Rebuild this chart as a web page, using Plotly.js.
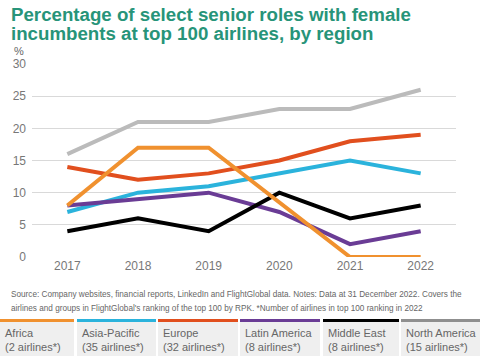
<!DOCTYPE html>
<html>
<head>
<meta charset="utf-8">
<script src="https://cdn.plot.ly/plotly-3.0.1.min.js"></script>
<style>html,body{margin:0;padding:0;background:#fff;}#chart{width:480px;height:356px;}</style>
</head>
<body>
<div id="chart"></div>
<script>
const years = [2017, 2018, 2019, 2020, 2021, 2022];
const africa = [8, 17, 17, 8.5, 0, 0];
const asiaPacific = [7, 10, 11, 13, 15, 13];
const europe = [14, 12, 13, 15, 18, 19];
const latinAmerica = [8, 9, 10, 7, 2, 4];
const middleEast = [4, 6, 4, 10, 6, 8];
const northAmerica = [16, 21, 21, 23, 23, 26];

const regionNames = ["Africa", "Asia-Pacific", "Europe", "Latin America", "Middle East", "North America"];
const regionCounts = ["(2 airlines*)", "(35 airlines*)", "(32 airlines*)", "(8 airlines*)", "(8 airlines*)", "(15 airlines*)"];
const yTicks = [0, 5, 10, 15, 20, 25, 30];

const series = [africa, asiaPacific, europe, latinAmerica, middleEast, northAmerica];
const lineColors = ["#F0912F", "#2BB3DC", "#E14F1E", "#6A3C95", "#000000", "#BBBBBB"];
const barColors = ["#F0912F", "#2BB3DC", "#E14F1E", "#6A3C95", "#000000", "#8F8F8F"];
const drawOrder = [5, 2, 1, 3, 4, 0];

const W = 480, H = 356;
const mL = 32, mR = 24, mT = 64, mB = 99;
const pw = W - mL - mR, ph = H - mT - mB;
const px = x => (x - mL) / pw;
const py = y => (H - mB - y) / ph;

const traces = drawOrder.map(i => ({
  x: years, y: series[i], type: 'scatter', mode: 'lines',
  name: regionNames[i], line: {color: lineColors[i], width: 4}, hoverinfo: 'skip'
}));

const FONT = 'Liberation Sans, Arial';
const boxes = [[0, 74], [77, 156], [158, 238], [240, 320], [323, 399], [401, 480]];
const shapes = [];
const annotations = [];
boxes.forEach((b, i) => {
  shapes.push({type: 'rect', xref: 'paper', yref: 'paper', x0: px(b[0]), x1: px(b[1]), y0: py(356), y1: py(322), fillcolor: '#EFEFEF', line: {width: 0}, layer: 'below'});
  shapes.push({type: 'rect', xref: 'paper', yref: 'paper', x0: px(b[0]), x1: px(b[1]), y0: py(322), y1: py(319), fillcolor: barColors[i], line: {width: 0}});
  annotations.push({xref: 'paper', yref: 'paper', x: px(b[0] + 3), y: py(333), xanchor: 'left', yanchor: 'middle', showarrow: false,
    text: regionNames[i], font: {family: FONT, size: 11, color: '#666666'}});
  annotations.push({xref: 'paper', yref: 'paper', x: px(b[0] + 3), y: py(346.5), xanchor: 'left', yanchor: 'middle', showarrow: false,
    text: regionCounts[i], font: {family: FONT, size: 11, color: '#666666'}});
});

annotations.push({xref: 'paper', yref: 'paper', x: px(9), y: py(14.5), xanchor: 'left', yanchor: 'middle', showarrow: false,
  text: '<b>Percentage of select senior roles with female</b>', font: {family: FONT, size: 18.7, color: '#279479'}});
annotations.push({xref: 'paper', yref: 'paper', x: px(9), y: py(33), xanchor: 'left', yanchor: 'middle', showarrow: false,
  text: '<b>incumbents at top 100 airlines, by region</b>', font: {family: FONT, size: 18.7, color: '#279479'}});
annotations.push({xref: 'paper', yref: 'paper', x: px(12), y: py(51), xanchor: 'left', yanchor: 'middle', showarrow: false,
  text: '%', font: {family: FONT, size: 11, color: '#666666'}});
annotations.push({xref: 'paper', yref: 'paper', x: px(9), y: py(294.5), xanchor: 'left', yanchor: 'middle', showarrow: false,
  text: 'Source: Company websites, financial reports, LinkedIn and FlightGlobal data. Notes: Data at 31 December 2022. Covers the', font: {family: FONT, size: 8.2, color: '#666666'}});
annotations.push({xref: 'paper', yref: 'paper', x: px(9), y: py(308), xanchor: 'left', yanchor: 'middle', showarrow: false,
  text: "airlines and groups in FlightGlobal's ranking of the top 100 by RPK. *Number of airlines in top 100 ranking in 2022", font: {family: FONT, size: 8.2, color: '#666666'}});

const layout = {
  width: W, height: H,
  margin: {l: mL, r: mR, t: mT, b: mB, pad: 0},
  paper_bgcolor: '#FFFFFF', plot_bgcolor: '#FFFFFF',
  showlegend: false,
  font: {family: FONT, size: 12, color: '#777777'},
  xaxis: {range: [2016.5, 2022.5], tickvals: years, ticktext: years.map(String), showgrid: false, zeroline: false, showline: false,
    ticks: '', tickfont: {size: 12, color: '#777777'}, fixedrange: true},
  yaxis: {range: [0, 30], tickvals: yTicks, showgrid: true, gridcolor: '#D9D9D9', gridwidth: 1, zeroline: false, showline: false,
    ticks: '', tickfont: {size: 12, color: '#777777'}, ticklabelstandoff: 5, fixedrange: true},
  shapes: shapes,
  annotations: annotations
};

Plotly.newPlot('chart', traces, layout, {displayModeBar: false, staticPlot: true});
</script>
</body>
</html>
